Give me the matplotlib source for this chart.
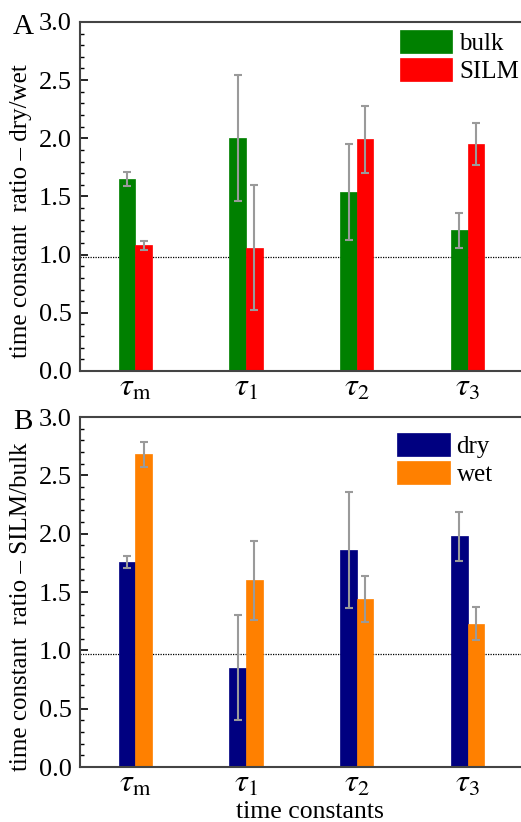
import matplotlib

matplotlib.use("Agg")
import matplotlib.pyplot as plt
import numpy as np
from matplotlib.ticker import FormatStrFormatter, MultipleLocator

plt.rcParams["font.family"] = ["Liberation Serif", "DejaVu Serif"]
plt.rcParams["mathtext.fontset"] = "stix"

categories = [r"$\tau_{\mathrm{m}}$", r"$\tau_{1}$", r"$\tau_{2}$", r"$\tau_{3}$"]

# panel A: dry/wet ratio
bulk = [1.65, 2.00, 1.54, 1.21]
bulk_err = [0.06, 0.54, 0.41, 0.15]
silm = [1.08, 1.06, 1.99, 1.95]
silm_err = [0.04, 0.54, 0.29, 0.18]
ref_a = 0.98

# panel B: SILM/bulk ratio
dry = [1.76, 0.85, 1.86, 1.98]
dry_err = [0.05, 0.45, 0.50, 0.21]
wet = [2.68, 1.60, 1.44, 1.23]
wet_err = [0.11, 0.34, 0.20, 0.14]
ref_b = 0.97


def draw_panel(ax, s1, e1, s2, e2, labels, colors, ref, ylabel, letter, legend_at):
    x = np.arange(1, len(categories) + 1)
    w = 0.15
    bars1 = ax.bar(x - w / 2, s1, w, color=colors[0], edgecolor=colors[0], linewidth=0.5, label=labels[0], zorder=2)
    bars2 = ax.bar(x + w / 2, s2, w, color=colors[1], edgecolor=colors[1], linewidth=0.5, label=labels[1], zorder=2)
    for xs, vals, errs in ((x - w / 2, s1, e1), (x + w / 2, s2, e2)):
        ax.errorbar(xs, vals, yerr=errs, fmt="none", ecolor="#9a9a9a", elinewidth=1.5,
                    capsize=2.7, capthick=1.5, zorder=3)
    ax.axhline(ref, color="black", linestyle=(0, (1, 1)), linewidth=0.9, zorder=1)
    ax.set_xlim(0.5, 4.5)
    ax.set_ylim(0, 3.0)
    ax.set_xticks(x)
    ax.set_xticklabels(categories, fontsize=23)
    ax.tick_params(axis="x", length=0, pad=2)
    ax.yaxis.set_major_locator(MultipleLocator(0.5))
    ax.yaxis.set_minor_locator(MultipleLocator(0.1))
    ax.yaxis.set_major_formatter(FormatStrFormatter("%.1f"))
    ax.tick_params(axis="y", which="major", direction="in", length=6, width=1.2, labelsize=19, pad=6)
    ax.tick_params(axis="y", which="minor", direction="in", length=3, width=1.0)
    ax.set_ylabel(ylabel, fontsize=18)
    ax.yaxis.set_label_coords(-0.108, 0.458)
    for side in ("left", "bottom", "top", "right"):
        ax.spines[side].set_linewidth(1.5)
        ax.spines[side].set_color("#444444")
    ax.legend(handles=[bars1, bars2], loc="upper left", bbox_to_anchor=legend_at, frameon=False,
              fontsize=18, handlelength=2.1, handleheight=1.05, labelspacing=0.12,
              handletextpad=0.28, borderaxespad=0, borderpad=0)
    ax.text(-0.152, 0.985, letter, transform=ax.transAxes, fontsize=21, ha="left", va="center")


fig = plt.figure(figsize=(5.21, 8.22), dpi=100)
ax_a = fig.add_axes([0.1536, 0.5487, 0.850, 0.4246])
ax_b = fig.add_axes([0.1536, 0.0669, 0.850, 0.4258])

draw_panel(ax_a, bulk, bulk_err, silm, silm_err, ["bulk", "SILM"], ["#008000", "#ff0000"], ref_a,
           "time constant  ratio – dry/wet", "A", (0.722, 0.977))
draw_panel(ax_b, dry, dry_err, wet, wet_err, ["dry", "wet"], ["#000080", "#ff8000"], ref_b,
           "time constant  ratio – SILM/bulk", "B", (0.716, 0.954))
ax_b.set_xlabel("time constants", fontsize=18.5, va="top")
ax_b.xaxis.set_label_coords(0.52, -0.097)

fig.savefig("out.png", dpi=100)
